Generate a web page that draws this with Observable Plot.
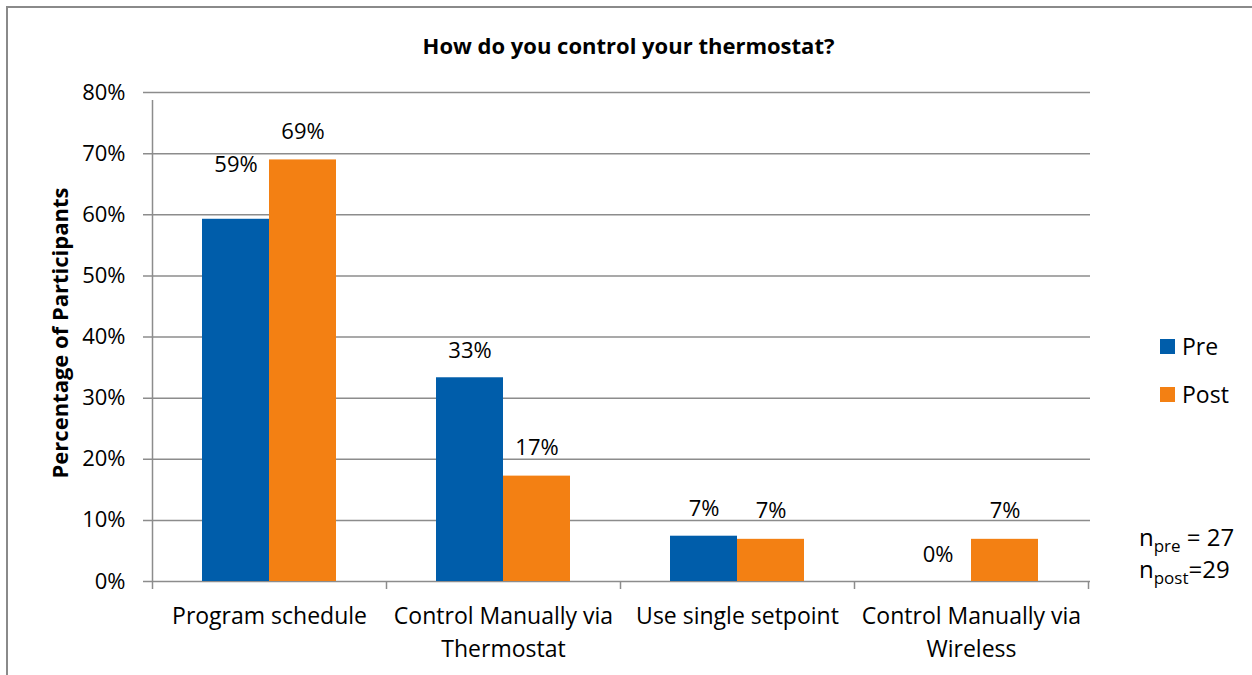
<!DOCTYPE html>
<html>
<head>
<meta charset="utf-8">
<script src="https://cdn.jsdelivr.net/npm/d3@7"></script>
<script src="https://cdn.jsdelivr.net/npm/@observablehq/plot@0.6"></script>
<style>
  html, body { margin: 0; padding: 0; background: #fff; }
  #wrap { position: relative; width: 1252px; height: 675px; overflow: hidden; font-family: "Open Sans", sans-serif; color: #000; }
  #frame { position: absolute; left: 6px; top: 6px; width: 1400px; height: 800px; border-left: 2px solid #8a8a8a; border-top: 2px solid #8a8a8a; }
  #chart { position: absolute; left: 0; top: 0; }
  #title { position: absolute; left: 0; top: 30px; width: 1257px; text-align: center; font-weight: bold; font-size: 22px; line-height: 30px; }
  .leg { position: absolute; left: 1160px; font-size: 23px; line-height: 30px; display: flex; align-items: center; }
  .leg span.sw { display: inline-block; width: 15px; height: 15px; margin-right: 7px; }
  .note { position: absolute; left: 1139px; font-size: 24px; line-height: 30px; white-space: nowrap; }
  .note sub { font-size: 17px; vertical-align: -6px; line-height: 0; }
</style>
</head>
<body>
<div id="wrap">
  <div id="frame"></div>
  <div id="chart"></div>
  <div id="title"></div>
  <div id="legend"></div>
  <div id="notes"></div>
</div>
<script>
const chartTitle = "How do you control your thermostat?";
const yTitle = "Percentage of Participants";
const categories = ["Program schedule", "Control Manually via Thermostat", "Use single setpoint", "Control Manually via Wireless"];
const tickLabels = ["Program schedule", "Control Manually via\nThermostat", "Use single setpoint", "Control Manually via\nWireless"];
const series = ["Pre", "Post"];
const colors = ["#005DAA", "#F38013"];
const preValues = [59.26, 33.33, 7.41, 0];
const postValues = [68.97, 17.24, 6.90, 6.90];
const yTicks = [0, 10, 20, 30, 40, 50, 60, 70, 80];
const nPre = 27;
const nPost = 29;

const rows = [];
categories.forEach((c, i) => {
  rows.push({category: c, series: "Pre", value: preValues[i]});
  rows.push({category: c, series: "Post", value: postValues[i]});
});
const preRows = rows.filter(d => d.series === "Pre");
const postRows = rows.filter(d => d.series === "Post");

const W = 1252, H = 675;
const mL = 152, mR = 164, mT = 92, mB = 94;
const band = (W - mL - mR) / categories.length; // 234
const barW = 67;
const outer = (band - 2 * barW) / 2; // 50
const grid = "#8c8c8c";
const fmt = v => Math.round(v) + "%";

const plot = Plot.plot({
  width: W,
  height: H,
  marginLeft: mL,
  marginRight: mR,
  marginTop: mT,
  marginBottom: mB,
  style: {fontFamily: "Open Sans, sans-serif", background: "transparent"},
  x: {type: "band", domain: categories, padding: 0, axis: null},
  y: {domain: [0, 80], axis: null},
  marks: [
    Plot.ruleY(yTicks, {stroke: grid, strokeWidth: 1.5, insetLeft: -9, insetRight: -2}),
    Plot.axisY({ticks: yTicks, tickSize: 0, tickPadding: 27, tickFormat: d => d + "%", fontSize: 22, color: "#000", label: null}),
    Plot.barY(preRows, {x: "category", y: "value", fill: colors[0], insetLeft: outer, insetRight: band - outer - barW}),
    Plot.barY(postRows, {x: "category", y: "value", fill: colors[1], insetLeft: outer + barW, insetRight: outer}),
    // axis line at left and category boundary ticks
    Plot.ruleX([categories[0]], {x: d => d, dx: -band / 2, y1: 0, y2: 80, insetBottom: -8, stroke: grid, strokeWidth: 1.5}),
    Plot.ruleX(categories, {x: d => d, dx: -band / 2, y1: 0, y2: 0, insetBottom: -8, stroke: grid, strokeWidth: 1.5}),
    Plot.ruleX([categories[categories.length - 1]], {x: d => d, dx: band / 2, y1: 0, y2: 0, insetBottom: -8, stroke: grid, strokeWidth: 1.5}),
    // value labels
    Plot.text(preRows.slice(1), {x: "category", y: "value", text: d => fmt(d.value), dx: -(barW / 2), dy: -27, fontSize: 22, fill: "#000"}),
    Plot.text(preRows.slice(0, 1), {x: "category", y: "value", text: d => fmt(d.value), dx: -(barW / 2), dy: -54, fontSize: 22, fill: "#000"}),
    Plot.text(postRows, {x: "category", y: "value", text: d => fmt(d.value), dx: barW / 2, dy: -28, fontSize: 22, fill: "#000"}),
    // category labels
    Plot.text(categories, {x: d => d, text: (d, i) => tickLabels[i], frameAnchor: "bottom", lineAnchor: "top", dy: 19, lineHeight: 1.43, fontSize: 23, fill: "#000"}),
    // y axis title
    Plot.text([yTitle], {frameAnchor: "left", textAnchor: "middle", rotate: -90, dx: -92, dy: -4, fontWeight: "bold", fontSize: 22, fill: "#000"})
  ]
});
document.getElementById("chart").appendChild(plot);

document.getElementById("title").textContent = chartTitle;

const legend = document.getElementById("legend");
series.forEach((s, i) => {
  const el = document.createElement("div");
  el.className = "leg";
  el.style.top = (331 + i * 48) + "px";
  el.innerHTML = `<span class="sw" style="background:${colors[i]}"></span><span>${s}</span>`;
  legend.appendChild(el);
});

const notes = document.getElementById("notes");
const n1 = document.createElement("div");
n1.className = "note"; n1.style.top = "522px";
n1.innerHTML = `n<sub>pre</sub> = ${nPre}`;
const n2 = document.createElement("div");
n2.className = "note"; n2.style.top = "554px";
n2.innerHTML = `n<sub>post</sub>=${nPost}`;
notes.appendChild(n1); notes.appendChild(n2);
</script>
</body>
</html>
